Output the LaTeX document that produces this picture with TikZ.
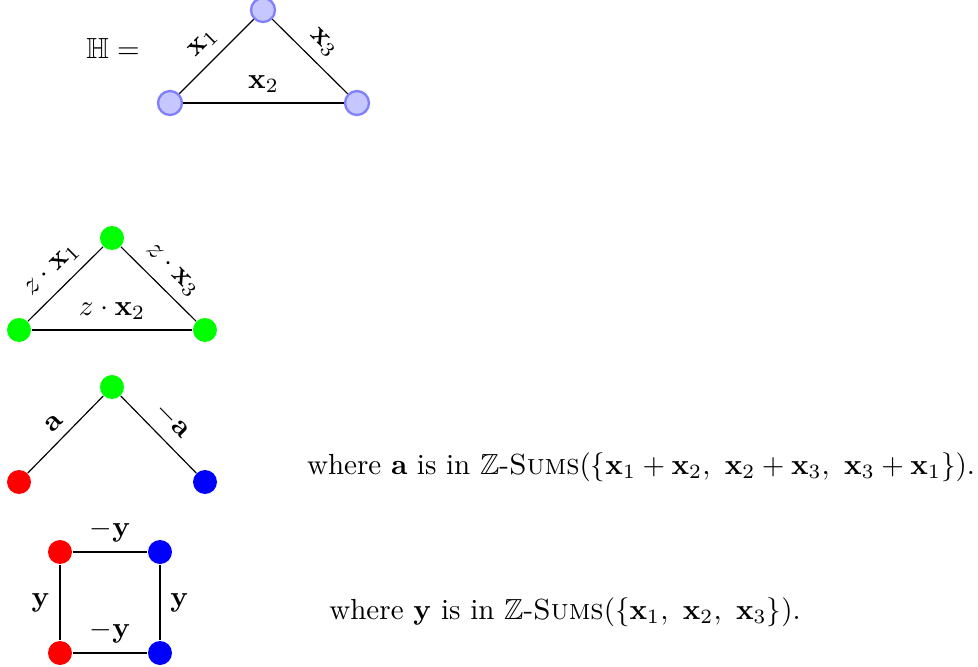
\documentclass[tikz,border=0pt]{standalone}
\usepackage{amsmath, amssymb}
\usetikzlibrary{positioning}

\begin{document}
\begin{tikzpicture}[
    x=0.0121cm, y=-0.0121cm,
    vtx/.style={circle, minimum size=0.29cm, inner sep=0pt},
    hvtx/.style={vtx, fill=blue!22, draw=blue!50, thick},
    gvtx/.style={vtx, fill=green},
    rvtx/.style={vtx, fill=red},
    bvtx/.style={vtx, fill=blue}
]
\useasboundingbox (0,0) rectangle (978,666);

% H triangle
\node (hname) at (113,48) {$\mathbb{H} =$};
\node[hvtx] (h1) at (263,10) {};
\node[hvtx] (h2) at (170,103) {};
\node[hvtx] (h3) at (357,103) {};
\draw (h2) -- node[above, sloped] {$\mathbf{x}_1$} (h1);
\draw (h1) -- node[above, sloped] {$\mathbf{x}_3$} (h3);
\draw (h2) -- node[above] {$\mathbf{x}_2$} (h3);

% Scaled triangle
\node[gvtx] (g1) at (112,238) {};
\node[gvtx] (g2) at (19,330) {};
\node[gvtx] (g3) at (205,330) {};
\draw (g2) -- node[above, sloped] {$z \cdot \mathbf{x}_1$} (g1);
\draw (g1) -- node[above, sloped] {$z \cdot \mathbf{x}_3$} (g3);
\draw (g2) -- node[above] {$z \cdot \mathbf{x}_2$} (g3);

% Path
\node[gvtx] (p1) at (112,387) {};
\node[rvtx] (p2) at (19,482) {};
\node[bvtx] (p3) at (205,482) {};
\draw (p2) -- node[above, sloped] {$\mathbf{a}$} (p1);
\draw (p1) -- node[above, sloped] {$-\mathbf{a}$} (p3);
\node (atext) at (641,467) {where $\mathbf{a}$ is in $\mathbb{Z}$-\textsc{Sums}$(\{\mathbf{x}_1+\mathbf{x}_2,\ \mathbf{x}_2+\mathbf{x}_3,\ \mathbf{x}_3+\mathbf{x}_1\})$.};

% Square
\node[rvtx] (s1) at (60,552) {};
\node[bvtx] (s2) at (160,552) {};
\node[rvtx] (s3) at (60,653) {};
\node[bvtx] (s4) at (160,653) {};
\draw (s1) -- node[above] {$-\mathbf{y}$} (s2);
\draw (s1) -- node[left] {$\mathbf{y}$} (s3);
\draw (s2) -- node[right] {$\mathbf{y}$} (s4);
\draw (s3) -- node[above] {$-\mathbf{y}$} (s4);
\node (ytext) at (565,612) {where $\mathbf{y}$ is in $\mathbb{Z}$-\textsc{Sums}$(\{\mathbf{x}_1,\ \mathbf{x}_2,\ \mathbf{x}_3\})$.};

\end{tikzpicture}
\end{document}
